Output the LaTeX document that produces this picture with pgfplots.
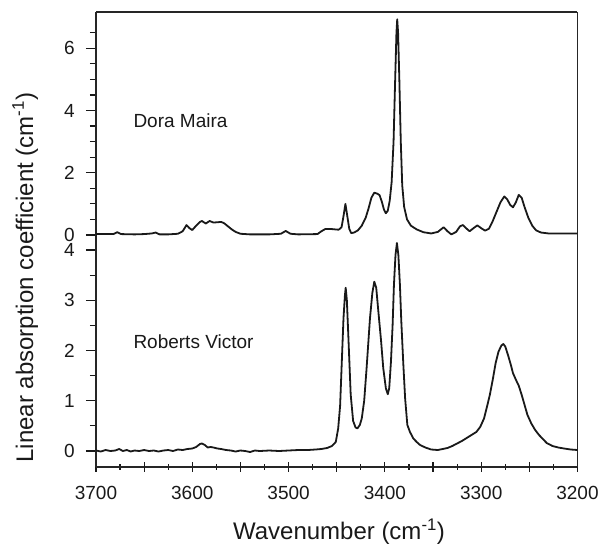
\documentclass[border=0pt]{standalone}
\usepackage{pgfplots}
\pgfplotsset{compat=1.18}
\usepackage{fontspec}
\setmainfont{Liberation Sans}

\pgfplotstableread{
x y
3700 0.03
3690 0.03
3682 0.03
3678 0.09
3674 0.03
3660 0.02
3650 0.03
3642 0.05
3638 0.08
3634 0.02
3625 0.02
3615 0.04
3610 0.12
3606 0.32
3603 0.22
3600 0.16
3596 0.30
3592 0.42
3590 0.45
3586 0.37
3582 0.45
3578 0.40
3574 0.41
3570 0.42
3567 0.38
3563 0.28
3559 0.18
3555 0.10
3550 0.04
3540 0.02
3520 0.02
3508 0.04
3503 0.13
3498 0.04
3490 0.02
3470 0.03
3466 0.12
3462 0.19
3455 0.19
3448 0.17
3445 0.25
3443 0.6
3441 1.0
3439 0.6
3437 0.2
3435 0.06
3432 0.08
3428 0.15
3424 0.3
3420 0.55
3417 0.85
3414 1.2
3411 1.36
3408 1.33
3405.5 1.28
3403 1.05
3401 0.82
3399 0.70
3397 0.78
3395 1.1
3393 1.7
3391 3.0
3389.5 4.8
3388 6.5
3387.2 6.93
3386.3 6.5
3385 5.0
3383.5 3.0
3382 1.6
3380 0.9
3377 0.5
3373 0.3
3367 0.18
3360 0.09
3352 0.05
3345 0.1
3339 0.25
3335 0.12
3331 0.02
3326 0.1
3322 0.28
3319 0.32
3315 0.2
3312 0.12
3308 0.22
3304 0.31
3300 0.22
3296 0.14
3292 0.2
3288 0.45
3284 0.75
3280 1.05
3276 1.24
3273 1.15
3270 0.97
3267 0.89
3264 1.05
3261 1.29
3258 1.2
3255 0.9
3251 0.55
3247 0.3
3243 0.15
3238 0.08
3230 0.05
3215 0.05
3200 0.05
}\doramaira

\pgfplotstableread{
x y
3700 0.01
3695 -0.01
3690 0.02
3685 0.0
3680 0.01
3676 0.04
3672 0.0
3668 0.02
3664 -0.01
3660 0.01
3655 0.0
3650 0.02
3645 0.0
3640 0.01
3635 -0.01
3630 0.01
3625 0.02
3620 0.0
3615 0.03
3610 0.02
3605 0.04
3600 0.05
3596 0.08
3592 0.14
3590 0.15
3587 0.12
3584 0.07
3581 0.08
3578 0.07
3574 0.05
3570 0.04
3565 0.02
3560 0.01
3555 -0.01
3550 0.01
3545 0.0
3540 -0.02
3535 0.01
3530 0.0
3520 0.01
3510 0.0
3500 0.01
3490 0.02
3480 0.02
3472 0.03
3466 0.04
3460 0.06
3455 0.1
3451 0.18
3448.5 0.45
3446.5 0.9
3445 1.65
3443 2.64
3441.5 3.1
3440.7 3.25
3439.5 3.0
3438 2.31
3435.5 1.12
3433 0.6
3430.5 0.47
3428.5 0.45
3426 0.52
3424 0.65
3421.5 1.0
3419 1.65
3415.5 2.64
3413 3.15
3411 3.37
3409 3.25
3406.8 2.78
3404 2.2
3401.7 1.65
3399 1.25
3397 1.13
3395.5 1.25
3393.7 1.78
3392 2.5
3390.6 3.31
3389 3.9
3387.5 4.14
3386 3.9
3384.4 3.31
3383 2.6
3381 1.78
3379 1.05
3376.7 0.52
3374 0.38
3370.5 0.25
3367 0.18
3363.5 0.12
3358 0.07
3352 0.03
3345 0.02
3340 0.04
3335 0.06
3330 0.1
3325 0.15
3320 0.2
3315 0.26
3310 0.32
3305 0.38
3301 0.48
3297 0.65
3294 0.88
3291 1.12
3288 1.42
3285 1.75
3282 1.98
3279 2.1
3277 2.13
3275 2.08
3272 1.9
3269 1.7
3267 1.55
3264 1.42
3261 1.3
3258 1.12
3255 0.92
3252 0.72
3248 0.55
3244 0.42
3240 0.32
3236 0.24
3232 0.16
3226 0.1
3220 0.07
3214 0.05
3207 0.03
3200 0.02
}\robertsvictor

\pgfplotsset{
  common/.style={
    scale only axis, width=481.5pt,
    x dir=reverse, xmin=3200, xmax=3700,
    enlargelimits=false, tick align=outside,
    /pgf/number format/assume math mode=true,
    /pgf/number format/1000 sep={},
    tick label style={font=\fontsize{19pt}{21pt}\selectfont, text=black!90},
    yticklabel style={anchor=east, inner sep=0pt},
    xticklabel style={anchor=north, inner sep=0pt},
    yticklabel shift=11pt,
    xticklabel shift=14pt,
    major tick length=10pt, minor tick length=6pt,
    every tick/.style={black!90, line width=1.2pt},
    axis line style={-, line width=1.3pt, black!85},
    ytick pos=left,
  },
  spec/.style={black!90, line width=1.8pt, line join=round, mark=none},
}

\begin{document}
\begin{tikzpicture}
\path[use as bounding box] (0pt,0pt) rectangle (603pt,545pt);

\begin{axis}[common,
  at={(96pt,305pt)}, anchor=south west, height=228pt,
  ymin=-0.16, ymax=7.166,
  axis x line=top, axis y line=box,
  x axis line style={-}, y axis line style={-},
  xtick=\empty, ytick pos=left,
  ytick={0,2,4,6},
  minor ytick={0.5,1,1.5,2.5,3,3.5,4.5,5,5.5,6.5},
]
\addplot[spec] table[x=x,y=y] {\doramaira};
\end{axis}

\begin{axis}[common,
  at={(96pt,78pt)}, anchor=south west, height=227pt,
  ymin=-0.318, ymax=4.2,
  axis x line=bottom, axis y line=box,
  x axis line style={-}, y axis line style={-},
  ytick pos=left, xtick pos=bottom,
  xtick={3200,3300,...,3700},
  extra x ticks={3250,3350,3450,3550,3650},
  extra x tick labels={},
  minor xtick={3225,3275,3325,3375,3425,3475,3525,3575,3625,3675},
  ytick={0,1,2,3,4},
  minor ytick={0.5,1.5,2.5,3.5},
]
\addplot[spec] table[x=x,y=y] {\robertsvictor};
\end{axis}

\node[anchor=base west, inner sep=0pt, font=\fontsize{19pt}{21pt}\selectfont, text=black!90]
  at (133.3pt,417.3pt) {Dora Maira};
\node[anchor=base west, inner sep=0pt, font=\fontsize{19pt}{21pt}\selectfont, text=black!90]
  at (133.3pt,196.7pt) {Roberts Victor};
\node[rotate=90, anchor=base, inner sep=0pt, font=\fontsize{24pt}{26pt}\selectfont, text=black!90]
  at (33pt,267.5pt) {Linear absorption coefficient (cm\textsuperscript{-1})};
\node[anchor=base, inner sep=0pt, font=\fontsize{24pt}{26pt}\selectfont, text=black!90]
  at (339pt,5pt) {Wavenumber (cm\textsuperscript{-1})};
\end{tikzpicture}
\end{document}
